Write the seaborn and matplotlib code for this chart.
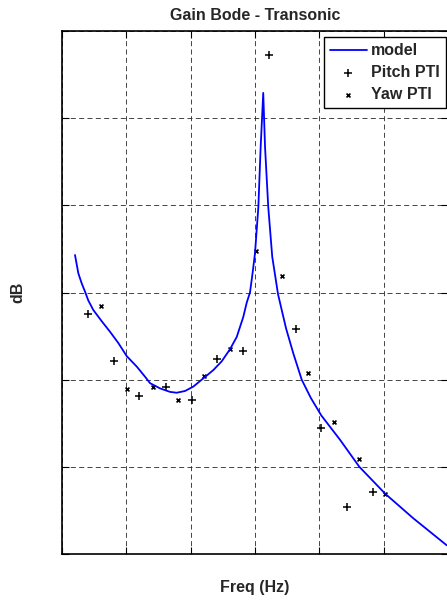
import numpy as np
import pandas as pd
import matplotlib
matplotlib.use("Agg")
import matplotlib.pyplot as plt
import seaborn as sns

# model curve
model_freq = [1.01, 1.27, 1.53, 1.79, 2.04, 2.43, 3.09, 3.73, 4.38, 5.03, 5.81, 6.53,
              6.84, 7.62, 8.39, 8.91, 9.56, 10.2, 11.11, 11.76, 12.41, 13.06, 13.58,
              14.09, 14.35, 14.61, 14.81, 15.0, 15.26, 15.44, 15.64, 15.78, 16.03, 16.34,
              16.79, 17.41, 17.98, 18.63, 19.34, 20.15, 21.61, 23.11, 25.13, 27.3, 29.9]
model_db = [-25.7, -27.8, -28.95, -29.9, -30.9, -32.0, -33.3, -34.5, -35.8, -37.3, -38.5, -39.8,
            -40.4, -41.0, -41.4, -41.5, -41.3, -40.8, -39.7, -38.9, -37.9, -36.5, -35.1,
            -32.8, -31.2, -30.0, -27.8, -25.5, -20.2, -13.3, -7.1, -13.3, -20.2, -25.9,
            -30.2, -34.1, -37.0, -40.0, -42.1, -44.1, -46.9, -50.0, -53.1, -55.9, -59.0]

# flight test points
pitch_freq = [2.0, 4.07, 6.01, 8.08, 10.13, 12.07, 14.09, 16.09, 18.16, 20.15, 22.15, 24.15]
pitch_db = [-32.5, -37.9, -41.9, -40.8, -42.3, -37.6, -36.7, -2.75, -34.2, -45.6, -54.6, -52.85]

yaw_freq = [3.01, 5.05, 7.07, 9.04, 11.06, 13.03, 15.1, 17.12, 19.1, 21.12, 23.1, 25.13]
yaw_db = [-31.6, -41.1, -40.8, -42.3, -39.6, -36.5, -25.2, -28.1, -39.2, -44.9, -49.1, -53.1]

sns.set_style("white")
plt.rcParams['font.family'] = ['Liberation Sans', 'DejaVu Sans']
plt.rcParams['font.weight'] = 'bold'

fig = plt.figure(figsize=(4.47, 6.0), dpi=100)
ax = fig.add_axes([62 / 447, 46 / 600, 386 / 447, 523 / 600])

sns.lineplot(x=model_freq, y=model_db, sort=False, estimator=None, color='#0000ff',
             linewidth=1.3, label='model', ax=ax)
sns.scatterplot(x=pitch_freq, y=pitch_db, marker='+', s=30, color='k', linewidth=1.1,
                label='Pitch PTI', ax=ax)
sns.scatterplot(x=yaw_freq, y=yaw_db, marker='x', s=8, color='k', linewidth=1.2,
                label='Yaw PTI', ax=ax)

ax.set_xlim(0, 30)
ax.set_ylim(-60, 0)
ax.set_xticks(np.arange(0, 31, 5))
ax.set_yticks(np.arange(-60, 1, 10))
ax.set_xticklabels([])
ax.set_yticklabels([])
ax.tick_params(direction='in', length=5, width=0.8, top=True, right=True,
               bottom=True, left=True, colors='k')
ax.grid(True, color='0.15', linestyle=(0, (6, 4)), linewidth=0.6)
for sp in ax.spines.values():
    sp.set_color('k')
    sp.set_linewidth(1.2)

ax.set_title('Gain Bode - Transonic', fontsize=11.5, fontweight='bold', pad=8)
ax.set_xlabel('Freq (Hz)', fontsize=11.5, fontweight='bold')
ax.set_ylabel('dB', fontsize=11.5, fontweight='bold')
ax.xaxis.set_label_coords(0.5, -0.05)
ax.yaxis.set_label_coords(-0.096, 0.5)

leg = ax.legend(loc='upper right', bbox_to_anchor=(0.9948, 0.9885), borderaxespad=0,
                fancybox=False, edgecolor='k', framealpha=1, fontsize=11.5,
                handlelength=2.3, handletextpad=0.25, labelspacing=0.42, borderpad=0.4)
leg.get_frame().set_linewidth(1.0)
for t in leg.get_texts():
    t.set_fontweight('bold')

fig.savefig('out.png', dpi=100)
